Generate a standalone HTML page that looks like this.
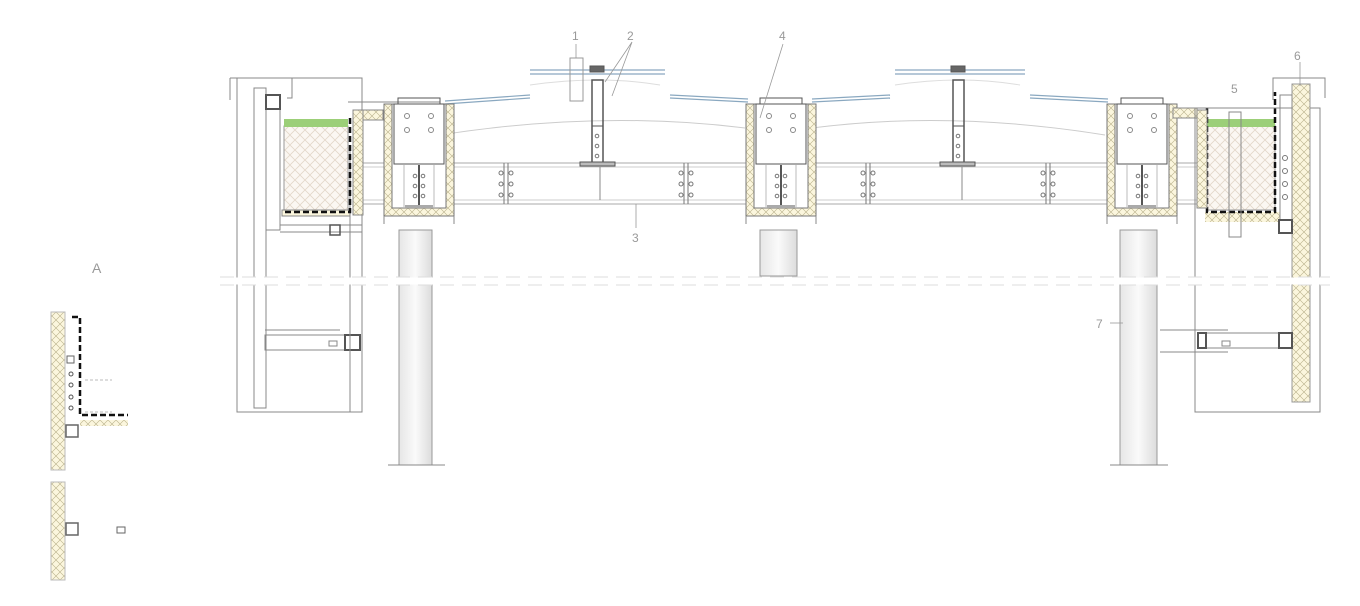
<!DOCTYPE html>
<html><head><meta charset="utf-8"><style>
html,body{margin:0;padding:0;background:#fff;}
svg{display:block;font-family:"Liberation Sans",sans-serif;}
</style></head><body>
<svg width="1360" height="606" viewBox="0 0 1360 606" xmlns="http://www.w3.org/2000/svg">
<defs>
<pattern id="ins" width="8" height="8" patternUnits="userSpaceOnUse">
<rect width="8" height="8" fill="#fbf6dd"/>
<path d="M0 0L8 8M8 0L0 8" stroke="#b8b08a" stroke-width="0.6"/>
</pattern>
<pattern id="soil" width="10" height="10" patternUnits="userSpaceOnUse">
<rect width="10" height="10" fill="#fbf7f2"/>
<path d="M0 5L5 0M5 10L10 5M0 5L5 10M5 0L10 5" stroke="#e2d6c8" stroke-width="0.8"/>
</pattern>
<linearGradient id="col" x1="0" x2="1">
<stop offset="0" stop-color="#e6e6e6"/><stop offset="0.5" stop-color="#fafafa"/><stop offset="1" stop-color="#dcdcdc"/>
</linearGradient>
<g id="bolts" stroke="#777" fill="#fff">
<line x1="0" y1="0" x2="0" y2="41"/><line x1="4" y1="0" x2="4" y2="41"/>
<circle cx="-3" cy="10" r="2"/><circle cx="7" cy="10" r="2"/>
<circle cx="-3" cy="21" r="2"/><circle cx="7" cy="21" r="2"/>
<circle cx="-3" cy="32" r="2"/><circle cx="7" cy="32" r="2"/>
</g>
</defs>
<g fill="none" stroke="#888" stroke-width="1">
<!-- beams -->
<line x1="360" y1="163" x2="1200" y2="163" stroke="#aaa"/>
<line x1="360" y1="167" x2="1200" y2="167" stroke="#ccc"/>
<line x1="360" y1="200" x2="1200" y2="200" stroke="#ccc"/>
<line x1="360" y1="204" x2="1200" y2="204" stroke="#aaa"/>
<use href="#bolts" x="504" y="163"/><use href="#bolts" x="684" y="163"/><use href="#bolts" x="866" y="163"/><use href="#bolts" x="1046" y="163"/>
<line x1="600" y1="167" x2="600" y2="200"/><line x1="962" y1="167" x2="962" y2="200"/>
<!-- roof curves faint -->
<path d="M440 135 Q600 110 745 128 M812 128 Q950 110 1105 135" stroke="#ccc"/>
<path d="M530 85 Q600 75 660 85 M895 85 Q960 75 1020 85" stroke="#ddd"/>
<!-- glass -->
<g stroke="#8aa8c0" stroke-width="1.2">
<line x1="445" y1="101" x2="530" y2="95"/><line x1="445" y1="104" x2="530" y2="98"/>
<line x1="530" y1="70" x2="665" y2="70"/><line x1="530" y1="74" x2="665" y2="74"/>
<line x1="670" y1="95" x2="748" y2="99"/><line x1="670" y1="98" x2="748" y2="102"/>
<line x1="812" y1="99" x2="890" y2="95"/><line x1="812" y1="102" x2="890" y2="98"/>
<line x1="895" y1="70" x2="1025" y2="70"/><line x1="895" y1="74" x2="1025" y2="74"/>
<line x1="1030" y1="95" x2="1108" y2="99"/><line x1="1030" y1="98" x2="1108" y2="102"/>
</g>
<!-- support posts -->
<g stroke="#555">
<rect x="592" y="80" width="11" height="84" stroke-width="1.5"/><rect x="953" y="80" width="11" height="84" stroke-width="1.5"/>
<line x1="592" y1="126" x2="603" y2="126"/><line x1="953" y1="126" x2="964" y2="126"/>
<rect x="580" y="162" width="35" height="4" fill="#bbb"/><rect x="940" y="162" width="35" height="4" fill="#bbb"/>
<rect x="590" y="66" width="14" height="6" fill="#666"/><rect x="951" y="66" width="14" height="6" fill="#666"/>
</g>
<g fill="#fff" stroke="#777"><circle cx="597" cy="136" r="1.8"/><circle cx="597" cy="146" r="1.8"/><circle cx="597" cy="156" r="1.8"/><circle cx="958" cy="136" r="1.8"/><circle cx="958" cy="146" r="1.8"/><circle cx="958" cy="156" r="1.8"/></g>
<rect x="570" y="58" width="13" height="43" stroke="#999"/>
<!-- left wall -->
<rect x="237" y="78" width="125" height="334"/>
<path d="M230 78H292V98H287M230 78V100" />
<rect x="254" y="88" width="12" height="320"/>
<rect x="266" y="95" width="14" height="135"/>
<rect x="266" y="95" width="14" height="14" stroke="#555" stroke-width="2"/>
<rect x="265" y="335" width="95" height="15"/>
<rect x="345" y="335" width="15" height="15" stroke="#555" stroke-width="2"/>
<rect x="329" y="341" width="8" height="5"/>
<line x1="280" y1="225" x2="362" y2="225"/><line x1="280" y1="232" x2="362" y2="232"/>
<rect x="330" y="225" width="10" height="10" stroke="#555" stroke-width="1.5"/>
<line x1="350" y1="148" x2="350" y2="412"/>
<!-- left soil box -->
<rect x="284" y="126" width="64" height="84" fill="url(#soil)" stroke="#999"/>
<rect x="284" y="119" width="64" height="8" fill="#9ccf78" stroke="none"/>
<rect x="282" y="210" width="68" height="6" fill="#fbf6dd"/>
<path d="M350 118V212H284" stroke="#111" stroke-width="2.5" stroke-dasharray="6 3"/>
<rect x="353" y="110" width="10" height="105" fill="url(#ins)"/>
<rect x="363" y="110" width="20" height="10" fill="url(#ins)"/>
<path d="M348 102H440V110"/>
<!-- gutters -->
<g id="gut">
<rect x="384" y="104" width="70" height="112" fill="url(#ins)" stroke="#777"/>
<rect x="392" y="104" width="54" height="104" fill="#fff" stroke="#777"/>
<rect x="394" y="104" width="50" height="60" stroke="#555"/>
<line x1="419" y1="165" x2="419" y2="208" stroke="#555" stroke-width="2"/>
<line x1="404" y1="165" x2="404" y2="208" stroke="#bbb"/><line x1="434" y1="165" x2="434" y2="208" stroke="#bbb"/>
<g fill="#fff" stroke="#777"><circle cx="415" cy="176" r="1.8"/><circle cx="423" cy="176" r="1.8"/><circle cx="415" cy="186" r="1.8"/><circle cx="423" cy="186" r="1.8"/><circle cx="415" cy="196" r="1.8"/><circle cx="423" cy="196" r="1.8"/></g>
<rect x="405" y="205" width="28" height="3" fill="#aaa" stroke="none"/>
<line x1="384" y1="216" x2="384" y2="224"/><line x1="454" y1="216" x2="454" y2="224"/>
<circle cx="407" cy="116" r="2.5"/><circle cx="431" cy="116" r="2.5"/><circle cx="407" cy="130" r="2.5"/><circle cx="431" cy="130" r="2.5"/>
<path d="M398 104V98H440V104" stroke="#555"/>
</g>
<use href="#gut" x="362"/>
<use href="#gut" x="723"/>
<!-- columns -->
<rect x="399" y="230" width="33" height="235" fill="url(#col)" stroke="#999"/>
<rect x="760" y="230" width="37" height="46" fill="url(#col)" stroke="#999"/>
<rect x="1120" y="230" width="37" height="235" fill="url(#col)" stroke="#999"/>
<line x1="388" y1="465" x2="445" y2="465"/><line x1="1110" y1="465" x2="1168" y2="465"/>
<!-- right soil box -->
<rect x="1207" y="125" width="68" height="85" fill="url(#soil)" stroke="#999"/>
<rect x="1207" y="119" width="68" height="8" fill="#9ccf78" stroke="none"/>
<rect x="1205" y="212" width="75" height="10" fill="url(#ins)" stroke="none"/>
<path d="M1207 108V212H1275V92" stroke="#111" stroke-width="2.5" stroke-dasharray="6 3"/>
<rect x="1197" y="110" width="10" height="98" fill="url(#ins)"/>
<rect x="1173" y="108" width="24" height="10" fill="url(#ins)"/>
<rect x="1229" y="112" width="12" height="125"/>
<!-- right wall -->
<rect x="1195" y="108" width="125" height="304"/>
<rect x="1292" y="84" width="18" height="318" fill="url(#ins)" stroke="#999"/>
<path d="M1273 100V78H1325V98"/>
<rect x="1280" y="95" width="12" height="125"/>
<rect x="1279" y="220" width="13" height="13" stroke="#555" stroke-width="2"/>
<rect x="1198" y="333" width="94" height="15"/>
<rect x="1279" y="333" width="13" height="15" stroke="#555" stroke-width="2"/>
<rect x="1198" y="333" width="8" height="15" stroke="#555" stroke-width="2"/>
<rect x="1222" y="341" width="8" height="5"/>
<line x1="1160" y1="330" x2="1228" y2="330"/><line x1="1160" y1="352" x2="1228" y2="352"/>
<line x1="340" y1="330" x2="265" y2="330"/>
<g fill="#fff" stroke="#777"><circle cx="1285" cy="158" r="2.5"/><circle cx="1285" cy="171" r="2.5"/><circle cx="1285" cy="184" r="2.5"/><circle cx="1285" cy="197" r="2.5"/></g>
<!-- break line -->
<line x1="220" y1="281" x2="1330" y2="281" stroke="#fff" stroke-width="7"/>
<line x1="220" y1="277" x2="1330" y2="277" stroke="#ddd" stroke-dasharray="14 8"/>
<line x1="220" y1="285" x2="1330" y2="285" stroke="#ddd" stroke-dasharray="14 8"/>
<!-- leaders -->
<g stroke="#999" stroke-width="0.8">
<line x1="576" y1="44" x2="576" y2="58"/><path d="M632 42L605 82M632 42L612 96"/>
<line x1="636" y1="204" x2="636" y2="228"/><line x1="783" y1="44" x2="760" y2="118"/>
<line x1="1300" y1="62" x2="1300" y2="86"/><line x1="1110" y1="323" x2="1123" y2="323"/>
</g>
<!-- detail A -->
<rect x="51" y="312" width="14" height="158" fill="url(#ins)" stroke="#bbb"/>
<rect x="51" y="482" width="14" height="98" fill="url(#ins)" stroke="#bbb"/>
<path d="M72 317H80V415H128" stroke="#111" stroke-width="2.5" stroke-dasharray="6 3"/>
<rect x="80" y="420" width="48" height="6" fill="url(#ins)" stroke="none"/>
<rect x="67" y="356" width="7" height="7" stroke="#666"/>
<rect x="66" y="425" width="12" height="12" stroke="#666" stroke-width="1.5"/>
<rect x="66" y="523" width="12" height="12" stroke="#666" stroke-width="1.5"/>
<rect x="117" y="527" width="8" height="6" stroke="#666"/>
<g stroke="#555"><circle cx="71" cy="374" r="2"/><circle cx="71" cy="385" r="2"/><circle cx="71" cy="397" r="2"/><circle cx="71" cy="408" r="2"/></g>
<line x1="85" y1="380" x2="112" y2="380" stroke="#bbb" stroke-dasharray="3 2"/>
<line x1="85" y1="412" x2="112" y2="412" stroke="#bbb" stroke-dasharray="3 2"/>
</g>
<g fill="#999" font-size="12">
<text x="572" y="40">1</text><text x="627" y="40">2</text><text x="632" y="242">3</text>
<text x="779" y="40">4</text><text x="1231" y="93">5</text><text x="1294" y="60">6</text>
<text x="1096" y="328">7</text><text x="92" y="273" font-size="14">A</text>
</g>
</svg>
</body></html>
